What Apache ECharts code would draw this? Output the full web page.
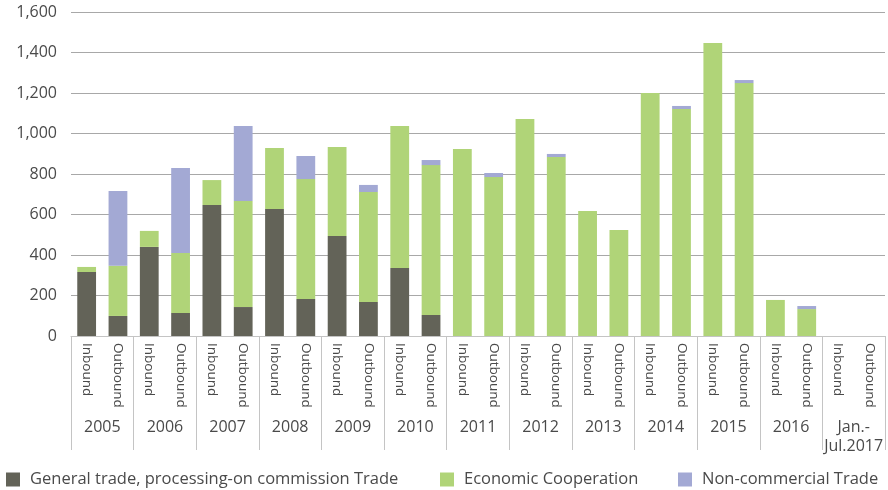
<!DOCTYPE html>
<html>
<head>
<meta charset="utf-8">
<script src="https://cdn.jsdelivr.net/npm/echarts@6/dist/echarts.min.js"></script>
<style>
  html, body { margin: 0; padding: 0; background: #fff; }
  #chart { width: 888px; height: 490px; }
</style>
</head>
<body>
<div id="chart"></div>
<script>
// Periods (each split into inbound / outbound)
const years = ['2005', '2006', '2007', '2008', '2009', '2010', '2011', '2012', '2013', '2014', '2015', '2016', 'Jan.-\nJul.2017'];
const directions = ['Inbound', 'Outbound'];

// Values per bar, in order 2005 Inbound, 2005 Outbound, 2006 Inbound, ...
const generalTrade = [316, 99, 440, 114, 647, 143, 627, 183, 494, 168, 336, 104, 0, 0, 0, 0, 0, 0, 0, 0, 0, 0, 0, 0, 0, 0];
const economicCooperation = [25, 248, 79, 296, 123, 524, 301, 592, 439, 543, 701, 740, 923, 785, 1072, 884, 617, 523, 1200, 1121, 1447, 1249, 178, 133, 0, 0];
const nonCommercial = [0, 369, 0, 420, 0, 370, 0, 114, 0, 35, 0, 25, 0, 20, 0, 15, 0, 0, 0, 15, 0, 15, 0, 15, 0, 0];

const yTicks = { min: 0, max: 1600, interval: 200 };

const seriesNames = ['General trade, processing-on commission Trade', 'Economic Cooperation', 'Non-commercial Trade'];
const colors = ['#636358', '#b0d478', '#a3a9d4'];

const barCategories = [];
years.forEach(() => directions.forEach(d => barCategories.push(d)));

const FONT = '"Open Sans", sans-serif';
const TEXT = '#4a4a4a';

const chart = echarts.init(document.getElementById('chart'), null, { renderer: 'canvas' });

const legendBase = {
  orient: 'horizontal',
  top: 471,
  padding: 0,
  itemWidth: 14,
  itemHeight: 14,
  icon: 'rect',
  textStyle: { fontFamily: FONT, fontSize: 16.5, color: TEXT, padding: [0, 0, 0, 5] }
};

chart.setOption({
  animation: false,
  color: colors,
  grid: { left: 71, right: 3, top: 12, bottom: 154, containLabel: false },
  legend: [
    Object.assign({}, legendBase, { left: 6, data: [seriesNames[0]] }),
    Object.assign({}, legendBase, { left: 440, data: [seriesNames[1]] }),
    Object.assign({}, legendBase, { left: 678, data: [seriesNames[2]] })
  ],
  xAxis: [
    {
      type: 'category',
      data: barCategories,
      position: 'bottom',
      axisLine: { show: true, lineStyle: { color: '#c4c4c4', width: 1 } },
      axisTick: { show: false },
      axisLabel: {
        interval: 0,
        rotate: -90,
        margin: 7,
        fontFamily: FONT,
        fontSize: 13.5,
        color: TEXT
      }
    },
    {
      type: 'category',
      data: years,
      position: 'bottom',
      axisLine: { show: false },
      axisTick: { show: true, interval: 0, length: 114, lineStyle: { color: '#c4c4c4', width: 1 } },
      axisLabel: {
        interval: 0,
        margin: 82,
        fontFamily: FONT,
        fontSize: 16,
        lineHeight: 19,
        color: TEXT
      }
    }
  ],
  yAxis: {
    type: 'value',
    min: yTicks.min,
    max: yTicks.max,
    interval: yTicks.interval,
    axisLine: { show: false },
    axisTick: { show: false },
    splitLine: { lineStyle: { color: '#a8a8a8', width: 1 } },
    axisLabel: {
      margin: 14,
      fontFamily: FONT,
      fontSize: 16,
      color: TEXT,
      formatter: v => v.toLocaleString('en-US')
    }
  },
  series: [
    { name: seriesNames[0], type: 'bar', stack: 'total', barWidth: '60%', data: generalTrade },
    { name: seriesNames[1], type: 'bar', stack: 'total', barWidth: '60%', data: economicCooperation },
    { name: seriesNames[2], type: 'bar', stack: 'total', barWidth: '60%', data: nonCommercial }
  ]
});
</script>
</body>
</html>
